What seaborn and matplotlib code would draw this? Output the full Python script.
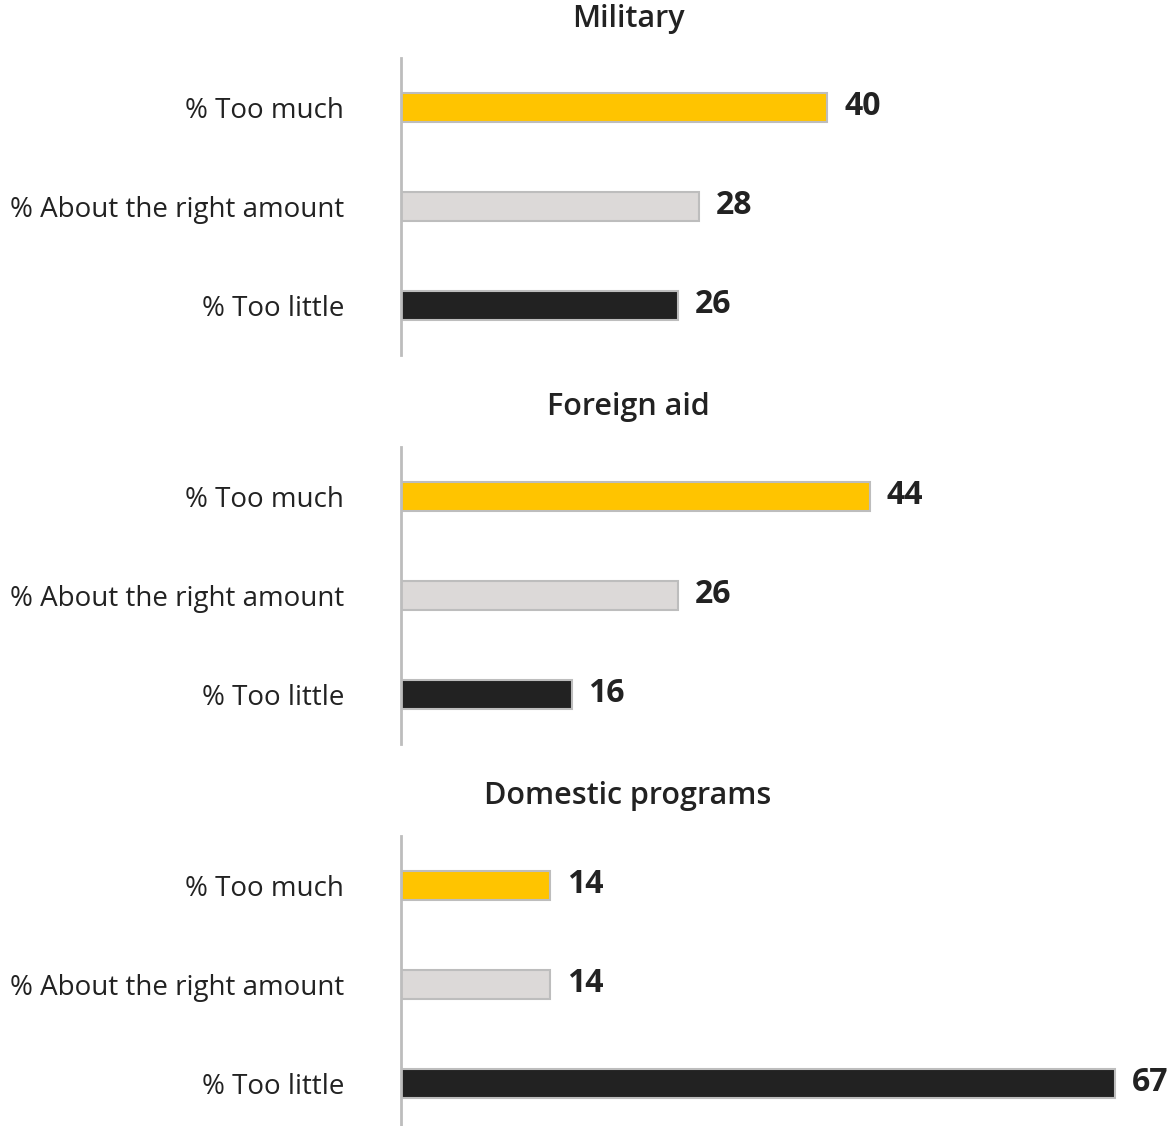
import matplotlib
matplotlib.use("Agg")
import matplotlib.pyplot as plt
import seaborn as sns
import pandas as pd

# Survey responses: share of respondents saying the government spends...
panels = ["Military", "Foreign aid", "Domestic programs"]
responses = ["% Too much", "% About the right amount", "% Too little"]
military = [40, 28, 26]
foreign_aid = [44, 26, 16]
domestic = [14, 14, 67]

colors = ["#FFC400", "#DCD9D8", "#222222"]
edge = "#BDBDBD"
text_color = "#222222"

sns.set_theme(style="white")
plt.rcParams["font.family"] = ["Open Sans", "DejaVu Sans"]

W, H = 1175, 1126
fig = plt.figure(figsize=(W / 100, H / 100), dpi=100)

axis_left = 401
px_per_unit = 10.66
xmax = 72
panel_tops = [58, 447, 836]
panel_h = 297
title_y = [19, 407, 796]

for name, vals, top, ty in zip(panels, [military, foreign_aid, domestic], panel_tops, title_y):
    df = pd.DataFrame({"response": responses, "pct": vals})
    ax = fig.add_axes([axis_left / W, 1 - (top + panel_h) / H,
                       xmax * px_per_unit / W, panel_h / H])
    sns.barplot(data=df, y="response", x="pct", hue="response", palette=colors,
                order=responses, hue_order=responses, width=0.3, saturation=1,
                edgecolor=edge, linewidth=1.5, legend=False, ax=ax)
    ax.set_xlim(0, xmax)
    ax.set_ylim(2.5, -0.5)
    ax.set_xlabel("")
    ax.set_ylabel("")
    ax.set_xticks([])
    for s in ["top", "right", "bottom"]:
        ax.spines[s].set_visible(False)
    ax.spines["left"].set_color("#BDBDBD")
    ax.spines["left"].set_linewidth(2)
    ax.tick_params(axis="y", length=0, pad=41, labelsize=20, labelcolor=text_color)
    for i, v in enumerate(vals):
        ax.annotate(f"{v}", xy=(v, i), xytext=(12, 1), textcoords="offset points",
                    ha="left", va="center", fontsize=23, fontweight="bold",
                    color=text_color, annotation_clip=False)
    fig.text(628 / W, 1 - ty / H, name, ha="center", va="center",
             fontsize=22, fontweight="semibold", color=text_color)

fig.savefig("out.png", dpi=100)
